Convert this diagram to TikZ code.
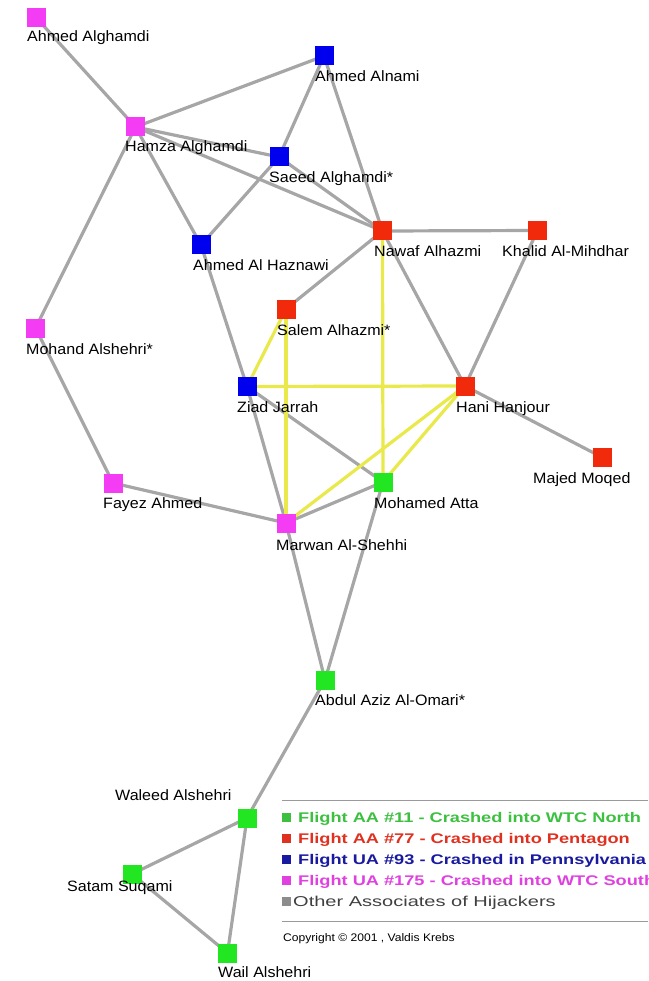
\documentclass[tikz,border=0pt]{standalone}
\usepackage{fontspec}
\setmainfont{Liberation Sans}
\newfontfamily\labfam[FakeStretch=1.07]{Liberation Sans}
\newfontfamily\legfam[FakeStretch=1.3]{Liberation Sans}
\newfontfamily\leggrayfam[FakeStretch=1.4]{Liberation Sans}
\newfontfamily\copyfam[FakeStretch=1.1]{Liberation Sans}
\usetikzlibrary{backgrounds}
\definecolor{nmag}{HTML}{F43CF4}
\definecolor{nblue}{HTML}{0000EE}
\definecolor{nred}{HTML}{F02A0A}
\definecolor{ngreen}{HTML}{22E622}
\definecolor{egray}{HTML}{A6A6A6}
\definecolor{eyel}{HTML}{E9E94C}
\definecolor{tgreen}{HTML}{3DC040}
\definecolor{tred}{HTML}{E03020}
\definecolor{tblue}{HTML}{1A1AA0}
\definecolor{tmag}{HTML}{E040E0}
\definecolor{tgray}{HTML}{404040}
\definecolor{sgray}{HTML}{8C8C8C}
\definecolor{lgray}{HTML}{9A9A9A}
\tikzset{
  sq/.style={rectangle, draw=none, minimum size=19pt, inner sep=0pt},
  lab/.style={anchor=base west, inner sep=0pt, font=\labfam\fontsize{15}{17}\selectfont, text=black},
  gedge/.style={draw=egray, line width=3.2pt},
  yedge/.style={draw=eyel, line width=3.2pt},
  legsq/.style={rectangle, draw=none, minimum size=9pt, inner sep=0pt},
  legtxt/.style={anchor=base west, inner sep=0pt, font=\legfam\bfseries\fontsize{14}{16}\selectfont},
  rule/.style={draw=lgray, line width=1pt}
}
\begin{document}
\begin{tikzpicture}[x=1pt,y=-1pt]
\useasboundingbox (0,0) rectangle (648,981);
% nodes
\node[sq, fill=nmag]   (aag) at (36,17.5) {};
\node[sq, fill=nblue]  (aan) at (324,56) {};
\node[sq, fill=nmag]   (ha)  at (135.5,127) {};
\node[sq, fill=nblue]  (sa)  at (279,157) {};
\node[sq, fill=nred]   (na)  at (382.5,231) {};
\node[sq, fill=nred]   (km)  at (537.5,230.5) {};
\node[sq, fill=nblue]  (ah)  at (201,245) {};
\node[sq, fill=nred]   (sal) at (286,309) {};
\node[sq, fill=nmag]   (mo)  at (35.5,328) {};
\node[sq, fill=nblue]  (zj)  at (247,386.5) {};
\node[sq, fill=nred]   (hh)  at (465,386) {};
\node[sq, fill=nred]   (mm)  at (602.5,457.5) {};
\node[sq, fill=nmag]   (fa)  at (113,483) {};
\node[sq, fill=ngreen] (mat) at (383,482) {};
\node[sq, fill=nmag]   (ms)  at (286,523) {};
\node[sq, fill=ngreen] (ao)  at (325,680) {};
\node[sq, fill=ngreen] (wa)  at (247,818) {};
\node[sq, fill=ngreen] (ss)  at (132,874) {};
\node[sq, fill=ngreen] (wai) at (227.5,953) {};
% labels
\node[lab] (laag) at (27,42) {Ahmed Alghamdi};
\node[lab] (laan) at (315,82) {Ahmed Alnami};
\node[lab] (lha)  at (125,152) {Hamza Alghamdi};
\node[lab] (lsa)  at (269,183) {Saeed Alghamdi*};
\node[lab] (lna)  at (374,257) {Nawaf Alhazmi};
\node[lab] (lkm)  at (502,257) {Khalid Al-Mihdhar};
\node[lab] (lah)  at (193,271) {Ahmed Al Haznawi};
\node[lab] (lsal) at (277,335) {Salem Alhazmi*};
\node[lab] (lmo)  at (26,354) {Mohand Alshehri*};
\node[lab] (lzj)  at (237,412) {Ziad Jarrah};
\node[lab] (lhh)  at (456,412) {Hani Hanjour};
\node[lab] (lmm)  at (533,483) {Majed Moqed};
\node[lab] (lfa)  at (103,508) {Fayez Ahmed};
\node[lab] (lmat) at (374,508) {Mohamed Atta};
\node[lab] (lms)  at (276,550) {Marwan Al-Shehhi};
\node[lab] (lao)  at (315,705) {Abdul Aziz Al-Omari*};
\node[lab] (lwa)  at (115,800) {Waleed Alshehri};
\node[lab] (lss)  at (67,891) {Satam Suqami};
\node[lab] (lwai) at (218,977) {Wail Alshehri};
% edges
\begin{scope}[on background layer]
\draw[gedge] (aag.center) -- (ha.center);
\draw[gedge] (ha.center) -- (aan.center);
\draw[gedge] (ha.center) -- (sa.center);
\draw[gedge] (ha.center) -- (na.center);
\draw[gedge] (ha.center) -- (ah.center);
\draw[gedge] (ha.center) -- (mo.center);
\draw[gedge] (aan.center) -- (sa.center);
\draw[gedge] (aan.center) -- (na.center);
\draw[gedge] (sa.center) -- (na.center);
\draw[gedge] (sa.center) -- (ah.center);
\draw[gedge] (na.center) -- (km.center);
\draw[gedge] (na.center) -- (sal.center);
\draw[gedge] (na.center) -- (hh.center);
\draw[gedge] (km.center) -- (hh.center);
\draw[gedge] (ah.center) -- (zj.center);
\draw[gedge] (zj.center) -- (ms.center);
\draw[gedge] (zj.center) -- (mat.center);
\draw[gedge] (hh.center) -- (mm.center);
\draw[gedge] (mo.center) -- (fa.center);
\draw[gedge] (fa.center) -- (ms.center);
\draw[gedge] (ms.center) -- (mat.center);
\draw[gedge] (ms.center) -- (ao.center);
\draw[gedge] (mat.center) -- (ao.center);
\draw[gedge] (ao.center) -- (wa.center);
\draw[gedge] (wa.center) -- (ss.center);
\draw[gedge] (wa.center) -- (wai.center);
\draw[gedge] (ss.center) -- (wai.center);
\draw[yedge] (sal.center) -- (zj.center);
\draw[yedge] (sal.center) -- (ms.center);
\draw[yedge] (zj.center) -- (hh.center);
\draw[yedge] (na.center) -- (mat.center);
\draw[yedge] (hh.center) -- (ms.center);
\draw[yedge] (hh.center) -- (mat.center);
\end{scope}
% legend
\coordinate (r1a) at (282,800);
\coordinate (r1b) at (648,800);
\coordinate (r2a) at (282,921.5);
\coordinate (r2b) at (648,921.5);
\draw[rule] (r1a) -- (r1b);
\draw[rule] (r2a) -- (r2b);
\node[legsq, fill=tgreen] (lg1) at (286.5,817.5) {};
\node[legsq, fill=tred]   (lg2) at (286.5,838.5) {};
\node[legsq, fill=tblue]  (lg3) at (286.5,859.5) {};
\node[legsq, fill=tmag]   (lg4) at (286.5,880.5) {};
\node[legsq, fill=sgray]  (lg5) at (286.5,901.5) {};
\node[legtxt, text=tgreen] (lt1) at (298,822) {Flight AA \#11 - Crashed into WTC North};
\node[legtxt, text=tred]   (lt2) at (298,843) {Flight AA \#77 - Crashed into Pentagon};
\node[legtxt, text=tblue]  (lt3) at (298,864) {Flight UA \#93 - Crashed in Pennsylvania};
\node[legtxt, text=tmag]   (lt4) at (298,885) {Flight UA \#175 - Crashed into WTC South};
\node[anchor=base west, inner sep=0pt, text=tgray, font=\leggrayfam\fontsize{14.3}{16}\selectfont] (lt5) at (293,906.5) {Other Associates of Hijackers};
\node[anchor=base west, inner sep=0pt, text=black, font=\copyfam\fontsize{11}{13}\selectfont] (cpy) at (283,941) {Copyright © 2001 , Valdis Krebs};
\end{tikzpicture}
\end{document}
